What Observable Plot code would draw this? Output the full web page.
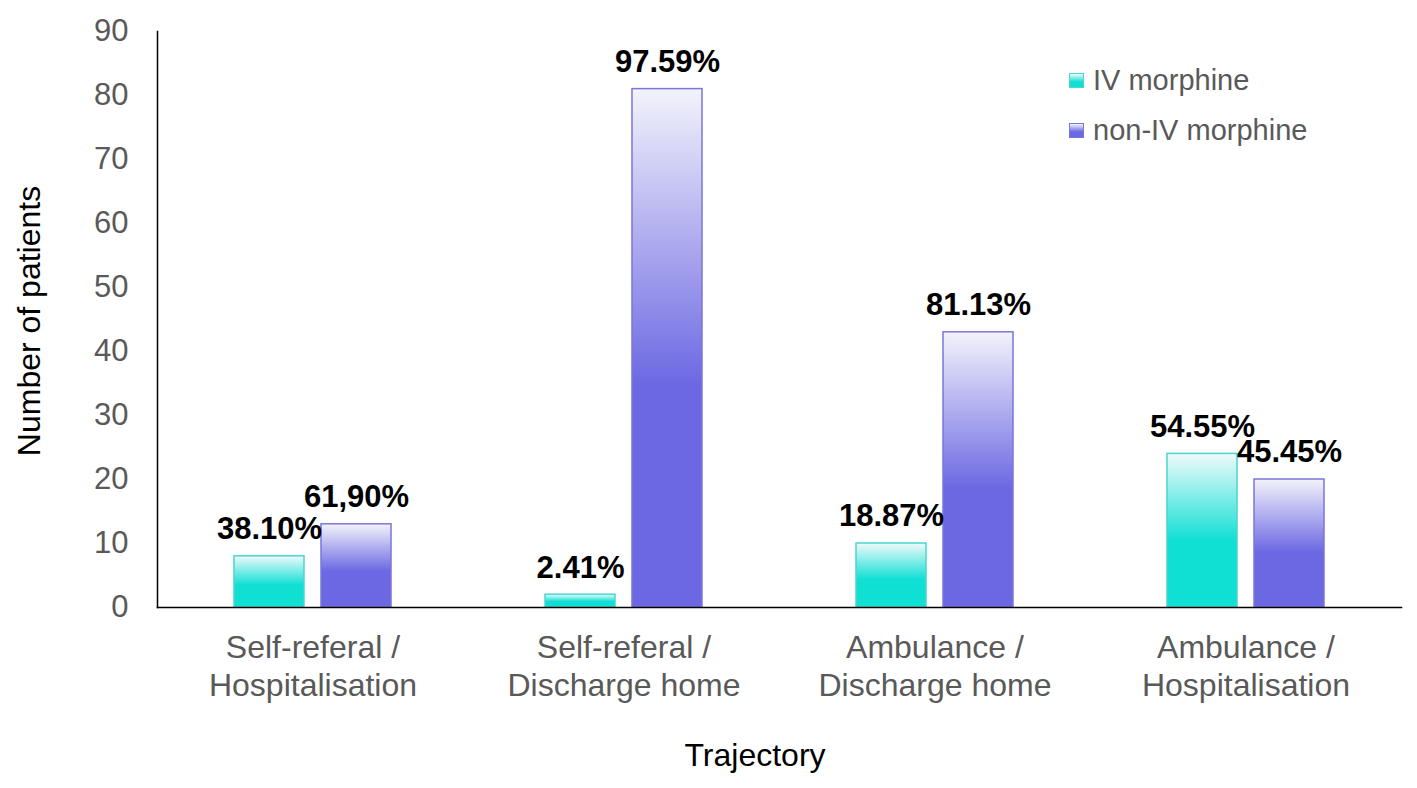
<!DOCTYPE html>
<html><head><meta charset="utf-8">
<script src="https://cdn.jsdelivr.net/npm/d3@7"></script>
<script src="https://cdn.jsdelivr.net/npm/@observablehq/plot@0.6"></script>
<style>
body{margin:0;background:#fff;font-family:"Liberation Sans",Arial,sans-serif;}
#wrap{position:relative;width:1417px;height:788px;overflow:hidden;}
.ytitle{position:absolute;left:29px;top:321px;transform:translate(-50%,-50%) rotate(-90deg);font-size:32px;white-space:nowrap;color:#000;}
.xtitle{position:absolute;left:755px;top:755px;transform:translate(-50%,-50%);font-size:32px;white-space:nowrap;color:#000;}
.legend{position:absolute;left:1069px;top:55px;font-size:29px;color:#595959;}
.legend .row{display:flex;align-items:center;height:50px;white-space:nowrap;}
.sw{width:15px;height:15px;margin-right:9px;box-sizing:border-box;}
</style></head>
<body>
<svg width="0" height="0" style="position:absolute">
  <defs>
    <linearGradient id="gIV" x1="0" y1="0" x2="0" y2="1">
      <stop offset="0" stop-color="#F0FAFB"/>
      <stop offset="0.57" stop-color="#10DFD4"/>
      <stop offset="1" stop-color="#10DFD4"/>
    </linearGradient>
    <linearGradient id="gNon" x1="0" y1="0" x2="0" y2="1">
      <stop offset="0" stop-color="#F3F3FB"/>
      <stop offset="0.57" stop-color="#6C68E3"/>
      <stop offset="1" stop-color="#6C68E3"/>
    </linearGradient>
  </defs>
</svg>
<div id="wrap">
  <div id="chart"></div>
  <div class="ytitle">Number of patients</div>
  <div class="xtitle">Trajectory</div>
  <div class="legend" id="legend"></div>
</div>
<script>
const categories = ["Self-referal /\nHospitalisation", "Self-referal /\nDischarge home", "Ambulance /\nDischarge home", "Ambulance /\nHospitalisation"];
const series = ["IV morphine", "non-IV morphine"];
const ivValues = [8, 2, 10, 24];
const nonIvValues = [13, 81, 43, 20];
const ivLabels = ["38.10%", "2.41%", "18.87%", "54.55%"];
const nonIvLabels = ["61,90%", "97.59%", "81.13%", "45.45%"];
const yTicks = [0, 10, 20, 30, 40, 50, 60, 70, 80, 90];

const ivRows = categories.map((c, i) => ({cat: c, series: series[0], value: ivValues[i], label: ivLabels[i]}));
const nonRows = categories.map((c, i) => ({cat: c, series: series[1], value: nonIvValues[i], label: nonIvLabels[i]}));
const rows = ivRows.concat(nonRows);

const chart = Plot.plot({
  width: 1417, height: 788,
  marginLeft: 157, marginRight: 16, marginTop: 31, marginBottom: 181,
  style: {fontFamily: "'Liberation Sans', Arial, sans-serif", background: "white"},
  fx: {domain: categories, padding: 0, label: null},
  x: {domain: series, paddingInner: 0.193, paddingOuter: 0.864, axis: null},
  y: {domain: [0, 90], label: null},
  marks: [
    Plot.barY(ivRows, {fx: "cat", x: "series", y: "value", fill: "url(#gIV)", stroke: "#4BD5CF", strokeWidth: 1.5}),
    Plot.barY(nonRows, {fx: "cat", x: "series", y: "value", fill: "url(#gNon)", stroke: "#7A77DA", strokeWidth: 1.5}),
    Plot.text(rows, {fx: "cat", x: "series", y: "value", text: "label", dy: -27, fontSize: 31, fontWeight: "bold", fill: "black"}),
    Plot.axisY({ticks: yTicks, tickSize: 0, tickPadding: 29, fontSize: 31, fill: "#595959", label: null}),
    Plot.axisFx({anchor: "bottom", tickSize: 0, tickPadding: 24, fontSize: 32, fill: "#595959", lineHeight: 1.18, label: null}),
    Plot.frame({anchor: "left", facet: "super", stroke: "black", strokeWidth: 1.5}),
    Plot.frame({anchor: "bottom", facet: "super", stroke: "black", strokeWidth: 1.5})
  ]
});
document.getElementById("chart").appendChild(chart);

const legendFills = {"IV morphine": ["#F0FAFB", "#10DFD4", "#4BD5CF"], "non-IV morphine": ["#F3F3FB", "#6C68E3", "#7A77DA"]};
const legend = d3.select("#legend");
series.forEach(s => {
  const r = legend.append("div").attr("class", "row");
  const f = legendFills[s];
  r.append("div").attr("class", "sw")
    .style("background", `linear-gradient(to bottom, ${f[0]} 0%, ${f[1]} 60%, ${f[1]} 100%)`)
    .style("border", `1px solid ${f[2]}`);
  r.append("span").text(s);
});
</script>
</body></html>
